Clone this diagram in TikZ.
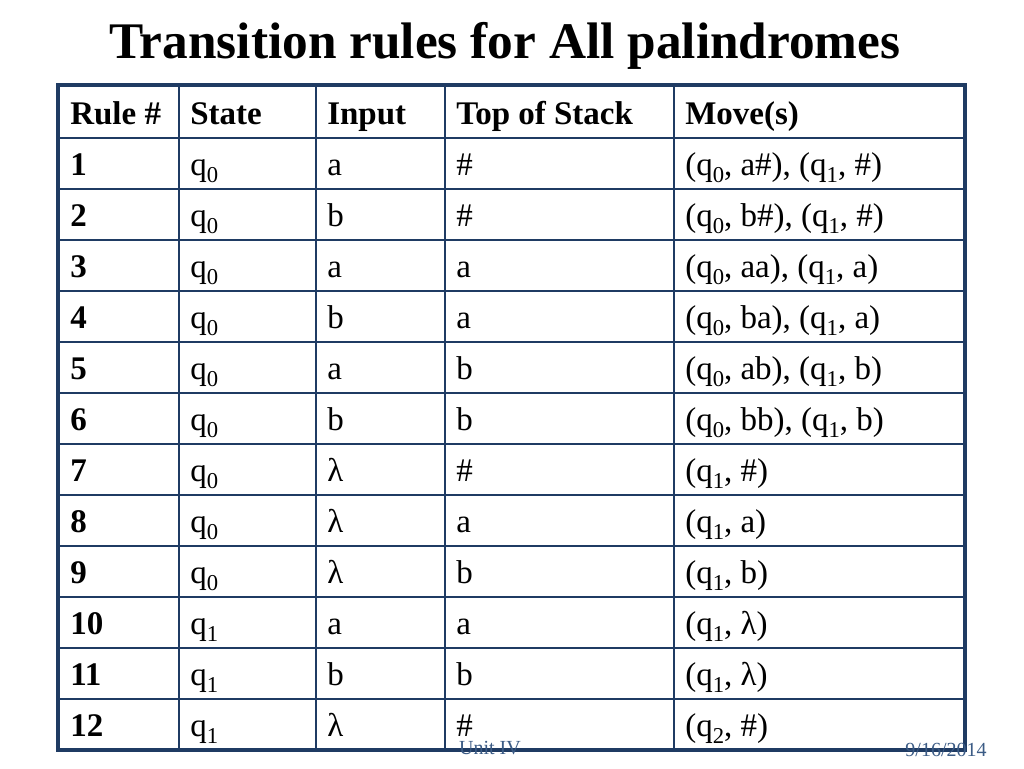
\documentclass[tikz,border=0pt]{standalone}
\usepackage{fontspec}
\setmainfont{Liberation Serif}
\usetikzlibrary{positioning}

\definecolor{tabblue}{HTML}{1F3B63}
\definecolor{footblue}{HTML}{3B5B85}
\newcommand{\qq}[1]{q\raisebox{-5.5pt}{\fontsize{17}{20}\selectfont #1}}
\newcommand{\cellsize}{\fontsize{24.75}{30}\selectfont}

\begin{document}
\begin{tikzpicture}[x=0.75pt, y=-0.75pt,
	cell/.style={anchor=base west, inner sep=0pt, font=\cellsize},
	head/.style={cell, font=\cellsize\bfseries},
	inner/.style={draw=tabblue, line width=1.1pt},
	outer/.style={draw=tabblue, line width=2.6pt},
	footer/.style={font=\fontsize{15}{18}\selectfont, text=footblue}]
	\useasboundingbox (0,0) rectangle (1024,768);
	
	\node[font=\fontsize{38.5}{46}\selectfont\bfseries] (title) at (505,46) {Transition rules for All palindromes};
	
	% grid
	\foreach \y in {138,189,...,700}	{
		\draw[inner]	(58,\y) -- (965,\y);
	}
	\foreach \x in {179,316,445,674}	{
		\draw[inner]	(\x,85) -- (\x,750);
	}
	\draw[outer] (58,85) rectangle (965,750);
	
	% header
	\node[head] (hrule) at (70,124) {Rule \#};
	\node[head] (hstate) at (190,124) {State};
	\node[head] (hinput) at (327,124) {Input};
	\node[head] (hstack) at (456,124) {Top of Stack};
	\node[head] (hmove) at (685,124) {Move(s)};
	
	% rules
	\foreach \s/\i/\t/\m [count=\r] in {
		0/a/\#/{(\qq0, a\#), (\qq1, \#)},
		0/b/\#/{(\qq0, b\#), (\qq1, \#)},
		0/a/a/{(\qq0, aa), (\qq1, a)},
		0/b/a/{(\qq0, ba), (\qq1, a)},
		0/a/b/{(\qq0, ab), (\qq1, b)},
		0/b/b/{(\qq0, bb), (\qq1, b)},
		0/λ/\#/{(\qq1, \#)},
		0/λ/a/{(\qq1, a)},
		0/λ/b/{(\qq1, b)},
		1/a/a/{(\qq1, λ)},
		1/b/b/{(\qq1, λ)},
		1/λ/\#/{(\qq2, \#)}}	{
		\node[head] (rule\r) at (70,124+51*\r) {\r};
		\node[cell] (state\r) at (190,124+51*\r) {\qq{\s}};
		\node[cell] (input\r) at (327,124+51*\r) {\i};
		\node[cell] (stack\r) at (456,124+51*\r) {\t};
		\node[cell] (move\r) at (685,124+51*\r) {\m};
	}
	
	\node[footer] (unit) at (490,748) {Unit IV};
	\node[footer] (date) at (946,750) {9/16/2014};
\end{tikzpicture}
\end{document}
